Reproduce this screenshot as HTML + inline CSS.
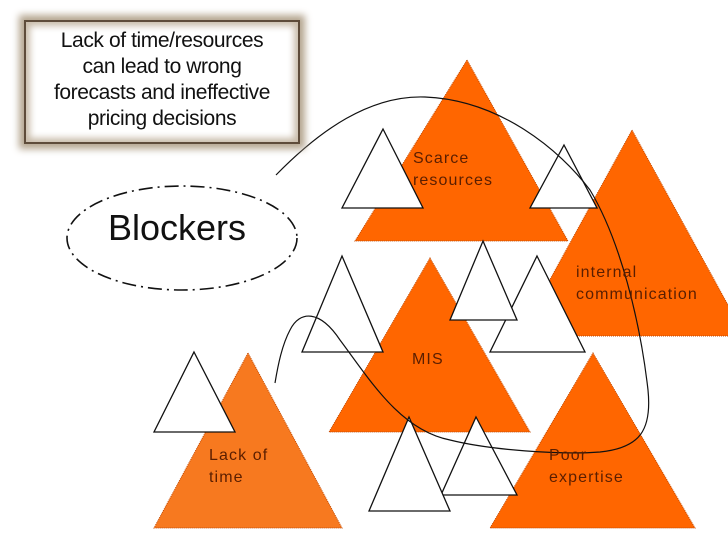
<!DOCTYPE html>
<html><head><style>
body{margin:0;background:#fff;width:728px;height:546px;overflow:hidden;position:relative;font-family:"Liberation Sans",sans-serif}
.box{position:absolute;left:24px;top:20px;width:276px;height:124px;box-sizing:border-box;border:2px solid #5e4c3a;box-shadow:0 0 7px 5px #b5a690, inset 0 0 7px 4px #c9bcaa;background:#fff;text-align:center;font-size:21px;line-height:26px;color:#111;padding-top:6px;letter-spacing:-0.4px}
.t{position:absolute;color:#5a1e00;font-size:16px;line-height:22px;letter-spacing:1.1px}
</style></head><body>
<svg width="728" height="546" style="position:absolute;left:0;top:0">
<g fill="#ff6600" stroke="#c04800" stroke-width="1" stroke-dasharray="1 1">
<polygon points="467,60 568,241 355,241"/>
<polygon points="632,130 745,336 519,336"/>
<polygon points="430,258 530,432 329,432"/>
<polygon points="593,353 695,528 490,528"/>
<polygon points="248,353 342,528 154,528" fill="#f7791f"/>
</g>
<g fill="#fff" stroke="#111" stroke-width="1.3">
<polygon points="383,129 423,208 342,208"/>
<polygon points="564,145 597,208 530,208"/>
<polygon points="537,256 585,352 490,352"/>
<polygon points="483,241 517,320 450,320"/>
<polygon points="342,256 383,352 302,352"/>
<polygon points="476,417 517,495 441,495"/>
<polygon points="409,417 450,511 369,511"/>
<polygon points="194,352 235,432 154,432"/>
</g>
<path d="M276,175 C320,130 370,95 425,97 C500,100 560,150 590,190 C620,240 640,320 648,390 C652,430 640,448 600,452 C560,455 490,450 450,440 C400,430 370,380 340,340 C320,310 300,310 290,330 C282,345 278,365 275,383" fill="none" stroke="#111" stroke-width="1.2"/>
<ellipse cx="182" cy="238" rx="115" ry="52" fill="none" stroke="#111" stroke-width="1.6" stroke-dasharray="14 5 2 5"/>
</svg>
<div class="box">Lack of time/resources<br>can lead to wrong<br>forecasts and ineffective<br>pricing decisions</div>
<div style="position:absolute;left:108px;top:207px;font-size:36px;color:#111">Blockers</div>
<div class="t" style="left:413px;top:148px">Scarce<br>resources</div>
<div class="t" style="left:576px;top:262px">internal<br>communication</div>
<div class="t" style="left:412px;top:349px">MIS</div>
<div class="t" style="left:549px;top:445px">Poor<br>expertise</div>
<div class="t" style="left:209px;top:445px">Lack of<br>time</div>
</body></html>
